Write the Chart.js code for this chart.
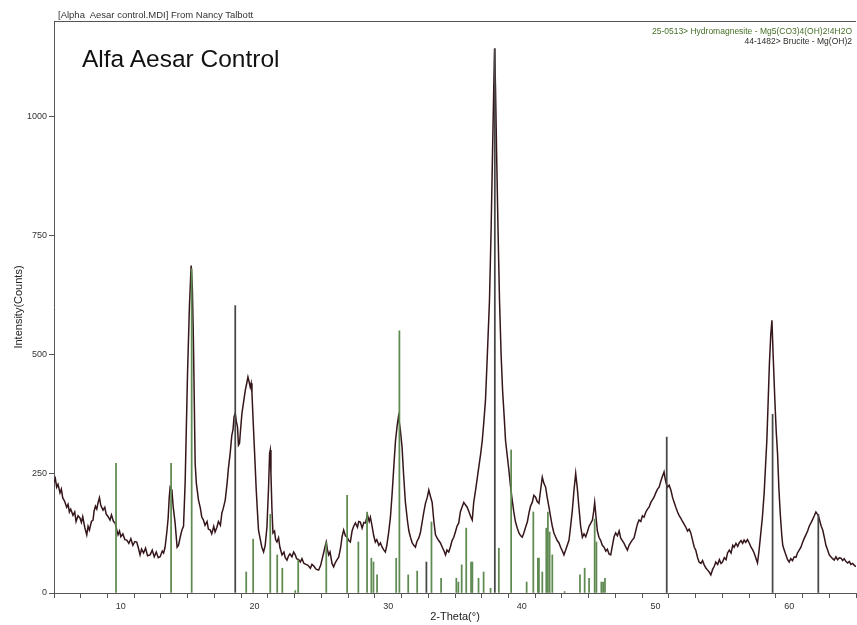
<!DOCTYPE html>
<html>
<head>
<meta charset="utf-8">
<script src="https://cdn.jsdelivr.net/npm/chart.js@4.4.1/dist/chart.umd.min.js"></script>
<style>
  body { margin: 0; background: #fff; }
  #wrap { position: relative; width: 857px; height: 625px; }
  .txt { position: absolute; font-family: "Liberation Sans", Arial, sans-serif; white-space: nowrap; }
  #header { left: 58px; top: 9px; font-size: 9.5px; color: #333; }
  #label { left: 82px; top: 45px; font-size: 24.5px; color: #111; }
  #legend { right: 5px; top: 26px; font-size: 8.5px; text-align: right; line-height: 10px; }
</style>
</head>
<body>
<div id="wrap">
  <canvas id="xrd" width="857" height="625"></canvas>
  <div class="txt" id="header">[Alpha&nbsp; Aesar control.MDI] From Nancy Talbott</div>
  <div class="txt" id="label">Alfa Aesar Control</div>
  <div class="txt" id="legend">
    <div style="color:#456f26">25-0513&gt; Hydromagnesite - Mg5(CO3)4(OH)2!4H2O</div>
    <div style="color:#2b2f28">44-1482&gt; Brucite - Mg(OH)2</div>
  </div>
</div>
<script>
var scanTheta = [
	5.00, 5.10, 5.20, 5.30, 5.45, 5.55, 5.65, 5.80, 5.95, 6.05,
	6.15, 6.25, 6.42, 6.55, 6.65, 6.80, 6.95, 7.05, 7.15, 7.30,
	7.45, 7.55, 7.65, 7.80, 7.92, 8.00, 8.10, 8.20, 8.30, 8.40,
	8.50, 8.67, 8.80, 8.90, 9.05, 9.19, 9.30, 9.45, 9.57, 9.70,
	9.79, 9.90, 10.00, 10.15, 10.30, 10.45, 10.60, 10.75, 10.90, 11.05,
	11.19, 11.30, 11.44, 11.55, 11.70, 11.85, 12.00, 12.19, 12.35, 12.50,
	12.65, 12.80, 12.94, 13.10, 13.20, 13.31, 13.45, 13.54, 13.62, 13.69,
	13.82, 13.92, 14.06, 14.21, 14.31, 14.45, 14.57, 14.69, 14.81, 14.99,
	15.13, 15.26, 15.35, 15.43, 15.56, 15.65, 15.81, 15.95, 16.05, 16.18,
	16.30, 16.45, 16.55, 16.69, 16.80, 16.95, 17.05, 17.19, 17.30, 17.45,
	17.56, 17.65, 17.81, 17.95, 18.05, 18.18, 18.30, 18.39, 18.47, 18.56,
	18.64, 18.73, 18.80, 18.88, 18.95, 19.06, 19.18, 19.31, 19.42, 19.51,
	19.58, 19.68, 19.75, 19.81, 19.93, 20.03, 20.13, 20.22, 20.30, 20.45,
	20.55, 20.68, 20.80, 20.93, 21.05, 21.13, 21.18, 21.23, 21.30, 21.38,
	21.50, 21.58, 21.68, 21.80, 21.90, 22.06, 22.20, 22.30, 22.43, 22.55,
	22.65, 22.80, 22.93, 23.05, 23.15, 23.30, 23.43, 23.55, 23.70, 23.85,
	24.00, 24.18, 24.30, 24.45, 24.60, 24.80, 24.95, 25.05, 25.17, 25.30,
	25.37, 25.45, 25.55, 25.65, 25.80, 25.92, 26.05, 26.18, 26.30, 26.45,
	26.55, 26.67, 26.80, 26.93, 27.05, 27.17, 27.30, 27.42, 27.55, 27.70,
	27.80, 27.92, 28.05, 28.18, 28.30, 28.45, 28.58, 28.67, 28.80, 28.92,
	29.04, 29.15, 29.30, 29.42, 29.55, 29.68, 29.79, 29.90, 30.05, 30.17,
	30.30, 30.42, 30.55, 30.67, 30.77, 30.90, 31.04, 31.15, 31.29, 31.45,
	31.55, 31.67, 31.80, 31.92, 32.04, 32.15, 32.30, 32.42, 32.55, 32.68,
	32.79, 32.92, 33.04, 33.15, 33.29, 33.42, 33.54, 33.65, 33.78, 33.91,
	34.05, 34.18, 34.29, 34.40, 34.53, 34.65, 34.78, 34.91, 35.05, 35.15,
	35.28, 35.40, 35.52, 35.66, 35.78, 35.91, 36.05, 36.18, 36.29, 36.40,
	36.54, 36.66, 36.78, 36.92, 37.04, 37.16, 37.28, 37.42, 37.58, 37.70,
	37.81, 37.90, 37.96, 38.03, 38.11, 38.22, 38.33, 38.45, 38.56, 38.68,
	38.78, 38.90, 39.03, 39.15, 39.28, 39.40, 39.52, 39.66, 39.80, 39.92,
	40.03, 40.15, 40.28, 40.41, 40.55, 40.65, 40.78, 40.90, 41.03, 41.15,
	41.28, 41.40, 41.53, 41.65, 41.78, 41.90, 42.03, 42.15, 42.28, 42.40,
	42.52, 42.65, 42.78, 42.90, 43.03, 43.15, 43.28, 43.40, 43.53, 43.65,
	43.78, 43.90, 44.03, 44.15, 44.27, 44.40, 44.53, 44.65, 44.78, 44.90,
	45.03, 45.15, 45.28, 45.38, 45.45, 45.55, 45.65, 45.77, 45.90, 46.02,
	46.15, 46.28, 46.40, 46.52, 46.65, 46.78, 46.90, 47.02, 47.15, 47.28,
	47.40, 47.52, 47.65, 47.78, 47.90, 48.02, 48.15, 48.28, 48.39, 48.52,
	48.65, 48.77, 48.90, 49.02, 49.14, 49.28, 49.40, 49.52, 49.65, 49.78,
	49.89, 50.02, 50.15, 50.27, 50.40, 50.52, 50.64, 50.72, 50.80, 50.90,
	51.02, 51.15, 51.28, 51.40, 51.52, 51.65, 51.78, 51.89, 52.02, 52.15,
	52.27, 52.40, 52.52, 52.64, 52.78, 52.90, 53.01, 53.15, 53.26, 53.40,
	53.52, 53.64, 53.78, 53.90, 54.02, 54.14, 54.28, 54.40, 54.51, 54.65,
	54.78, 54.90, 55.01, 55.15, 55.28, 55.39, 55.52, 55.65, 55.78, 55.88,
	56.02, 56.15, 56.26, 56.40, 56.52, 56.63, 56.75, 56.88, 57.01, 57.15,
	57.28, 57.38, 57.50, 57.63, 57.75, 57.88, 58.00, 58.13, 58.22, 58.33,
	58.45, 58.52, 58.62, 58.71, 58.80, 58.93, 59.03, 59.13, 59.23, 59.33,
	59.45, 59.52, 59.63, 59.75, 59.88, 60.00, 60.12, 60.25, 60.38, 60.51,
	60.62, 60.75, 60.88, 61.00, 61.12, 61.25, 61.38, 61.50, 61.63, 61.75,
	61.88, 62.00, 62.10, 62.18, 62.30, 62.40, 62.51, 62.65, 62.75, 62.88,
	63.00, 63.12, 63.25, 63.37, 63.50, 63.62, 63.75, 63.88, 64.00, 64.12,
	64.25, 64.38, 64.50, 64.62, 64.75, 64.88, 65.00
];
var scanCounts = [
	232, 240, 222, 228, 210, 218, 200, 192, 180, 186,
	170, 176, 163, 170, 150, 162, 157, 148, 160, 138,
	122, 140, 132, 150, 153, 172, 182, 176, 190, 200,
	184, 174, 180, 166, 160, 153, 164, 150, 147, 132,
	122, 130, 118, 124, 112, 111, 104, 114, 100, 108,
	107, 96, 80, 92, 84, 94, 78, 80, 90, 76,
	86, 74, 76, 88, 84, 96, 130, 157, 200, 222,
	216, 180, 147, 96, 100, 118, 132, 140, 230, 461,
	600, 687, 640, 530, 272, 230, 195, 178, 160, 153,
	142, 150, 134, 132, 124, 140, 128, 138, 150, 142,
	168, 176, 195, 230, 262, 293, 330, 342, 370, 377,
	360, 348, 310, 314, 340, 377, 400, 425, 440, 453,
	445, 432, 440, 419, 342, 280, 216, 170, 132, 110,
	96, 86, 100, 138, 220, 293, 300, 251, 180, 126,
	130, 112, 107, 116, 96, 80, 86, 74, 69, 78,
	82, 76, 86, 80, 72, 70, 65, 72, 62, 60,
	58, 52, 60, 56, 50, 48, 58, 70, 84, 100,
	107, 92, 80, 86, 62, 55, 64, 70, 75, 96,
	118, 132, 120, 117, 110, 107, 130, 140, 147, 138,
	150, 149, 136, 148, 147, 164, 150, 159, 140, 120,
	107, 112, 100, 105, 96, 90, 86, 100, 130, 159,
	210, 264, 320, 350, 370, 345, 306, 250, 190, 150,
	130, 117, 105, 100, 96, 108, 116, 128, 150, 172,
	188, 200, 216, 204, 190, 150, 122, 116, 110, 105,
	96, 88, 80, 90, 86, 96, 110, 117, 130, 140,
	147, 170, 180, 190, 185, 180, 170, 160, 153, 190,
	216, 240, 264, 292, 320, 360, 404, 500, 614, 760,
	928, 1060, 1142, 1060, 928, 760, 614, 500, 425, 370,
	320, 290, 258, 225, 195, 170, 150, 136, 125, 120,
	117, 126, 138, 149, 170, 182, 190, 205, 201, 192,
	188, 215, 243, 230, 222, 200, 180, 160, 140, 126,
	118, 110, 105, 96, 88, 80, 90, 100, 111, 140,
	174, 215, 251, 220, 180, 140, 117, 124, 118, 128,
	140, 146, 153, 172, 190, 160, 130, 117, 110, 100,
	96, 88, 92, 82, 80, 100, 118, 126, 120, 130,
	115, 110, 104, 96, 90, 100, 106, 112, 115, 130,
	145, 153, 150, 162, 159, 170, 176, 180, 190, 196,
	201, 210, 218, 222, 235, 245, 254, 240, 230, 222,
	226, 216, 200, 190, 180, 170, 162, 157, 150, 144,
	138, 130, 134, 126, 110, 96, 90, 74, 65, 62,
	68, 59, 52, 48, 44, 38, 50, 56, 65, 60,
	70, 62, 65, 74, 70, 84, 90, 84, 100, 96,
	104, 98, 105, 110, 104, 111, 106, 112, 105, 96,
	90, 84, 74, 63, 90, 126, 160, 210, 260, 320,
	420, 480, 540, 572, 500, 404, 340, 293, 220, 168,
	120, 100, 90, 80, 70, 65, 72, 68, 76, 75,
	84, 90, 96, 106, 114, 122, 130, 140, 147, 154,
	162, 170, 166, 163, 150, 140, 132, 114, 100, 90,
	80, 76, 72, 69, 76, 70, 74, 73, 68, 72,
	66, 63, 66, 60, 62, 58, 55
];

// reference patterns (stick positions and heights)
var hydroTheta = [9.64, 13.76, 15.30, 19.38, 19.90, 21.18, 21.70, 22.08, 23.05, 23.27,
	25.37, 26.93, 27.77, 28.42, 28.74, 28.90, 29.17, 30.60, 30.84, 31.50,
	32.17, 33.24, 33.96, 35.10, 35.25, 35.50, 35.84, 36.20, 36.30, 36.76,
	37.14, 37.66, 38.28, 39.20, 40.36, 40.86, 41.20, 41.28, 41.53, 41.83,
	41.95, 42.08, 42.28, 43.20, 44.35, 44.70, 45.03, 45.45, 45.58, 45.95,
	46.08, 46.22];
var hydroInt = [272, 272, 680, 44, 113, 165, 80, 52, 5, 69,
	107, 205, 107, 170, 73, 65, 38, 73, 550, 38,
	46, 149, 31, 31, 23, 59, 136, 65, 65, 31,
	44, 10, 94, 300, 23, 170, 73, 73, 44, 136,
	170, 128, 80, 3, 38, 52, 31, 155, 107, 23,
	23, 31];
var bruciteTheta = [18.56, 32.86, 37.98, 50.84, 58.76, 62.18];
var bruciteInt = [603, 65, 1142, 327, 375, 165];

var xMinorTicks = [6, 8, 10, 12, 14, 16, 18, 20, 22, 24, 26, 28, 30, 32, 34, 36,
	38, 40, 42, 44, 46, 48, 50, 52, 54, 56, 58, 60, 62, 64];
var xLabelled = [10, 20, 30, 40, 50, 60];
var yTicks = [0, 250, 500, 750, 1000];

function pairs(xs, ys) {
	var out = [];
	for (var i = 0; i < xs.length; i++) out.push({x: xs[i], y: ys[i]});
	return out;
}

// thin line along the top of the plot box
const topBorder = {
	id: 'topBorder',
	afterDraw(chart) {
		const a = chart.chartArea;
		const ctx = chart.ctx;
		ctx.save();
		ctx.strokeStyle = '#555';
		ctx.lineWidth = 1;
		ctx.beginPath();
		ctx.moveTo(a.left, a.top + 0.5);
		ctx.lineTo(a.right, a.top + 0.5);
		ctx.stroke();
		ctx.restore();
	}
};

const tickFont = {family: '"Liberation Sans", Arial, sans-serif', size: 9};

new Chart(document.getElementById('xrd'), {
	type: 'line',
	data: {
		datasets: [{
			type: 'line',
			data: pairs(scanTheta, scanCounts),
			borderColor: '#35161a',
			borderWidth: 1.5,
			pointRadius: 0,
			tension: 0,
			fill: false,
			order: 1
		}, {
			type: 'bar',
			data: pairs(hydroTheta, hydroInt),
			backgroundColor: '#5f8a52',
			barThickness: 1.1,
			grouped: false,
			order: 0
		}, {
			type: 'bar',
			data: pairs(bruciteTheta, bruciteInt),
			backgroundColor: '#474747',
			barThickness: 1.1,
			grouped: false,
			order: 0
		}]
	},
	options: {
		responsive: false,
		animation: false,
		layout: {padding: {top: 21, right: 1, left: 0, bottom: 0}},
		plugins: {
			legend: {display: false},
			tooltip: {enabled: false}
		},
		scales: {
			x: {
				type: 'linear',
				min: 5,
				max: 65,
				offset: false,
				afterFit: function(s) { s.height = 32; },
				afterBuildTicks: function(s) { s.ticks = xMinorTicks.map(function(v) { return {value: v}; }); },
				border: {color: '#555', width: 1},
				grid: {display: true, drawOnChartArea: false, tickLength: 5, color: '#555'},
				ticks: {
					autoSkip: false,
					maxRotation: 0,
					padding: 3,
					color: '#333',
					font: tickFont,
					callback: function(v) { return xLabelled.indexOf(v) >= 0 ? String(v) : ''; }
				},
				title: {
					display: true,
					text: '2-Theta(°)',
					color: '#222',
					font: {family: '"Liberation Sans", Arial, sans-serif', size: 11},
					padding: {top: 0, bottom: 1}
				}
			},
			y: {
				min: 0,
				max: 1200,
				afterFit: function(s) { s.width = 54; },
				afterBuildTicks: function(s) { s.ticks = yTicks.map(function(v) { return {value: v}; }); },
				border: {color: '#555', width: 1},
				grid: {display: true, drawOnChartArea: false, tickLength: 5, color: '#555'},
				ticks: {
					padding: 2,
					color: '#333',
					font: tickFont,
					callback: function(v) { return String(v); }
				},
				title: {
					display: true,
					text: 'Intensity(Counts)',
					color: '#222',
					font: {family: '"Liberation Sans", Arial, sans-serif', size: 11},
					padding: {top: 12, bottom: 0}
				}
			}
		}
	},
	plugins: [topBorder]
});
</script>
</body>
</html>
